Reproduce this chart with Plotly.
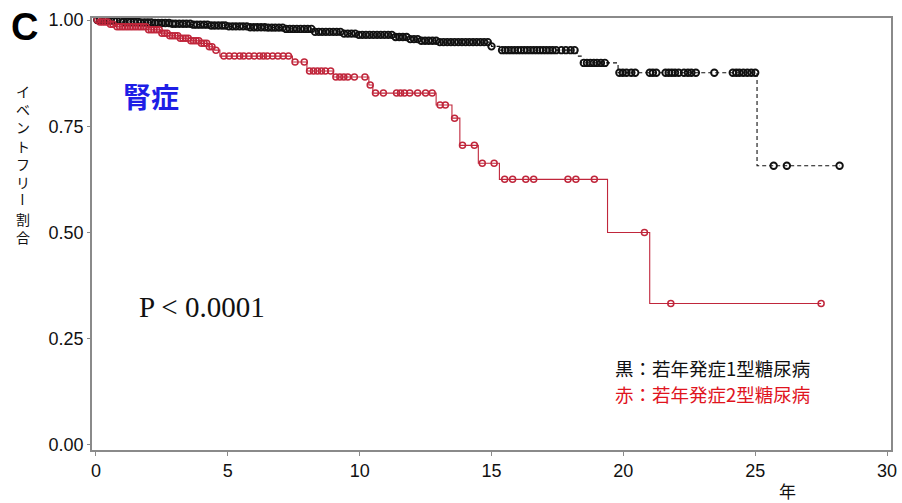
import numpy as np
import plotly.graph_objects as go

# Kaplan-Meier style event-free curves (years vs. event-free proportion)
# Early-onset type 1 diabetes: event times and survival after each step
t1_time = [0, 0.5, 1.0, 1.6, 2.2, 2.9, 3.6, 4.3, 5.0, 5.8, 6.5, 7.2, 8.3, 9.4, 9.9,
           11.3, 11.9, 12.3, 12.95, 15.0, 15.3, 18.25, 18.4, 19.8, 25.07]
t1_surv = [1.0, 0.998, 0.996, 0.994, 0.993, 0.991, 0.989, 0.987, 0.985, 0.983, 0.982,
           0.979, 0.972, 0.968, 0.965, 0.96, 0.955, 0.951, 0.948, 0.938, 0.929, 0.915,
           0.899, 0.876, 0.657]
t1_censor = [0.05, 0.15, 0.3, 0.42, 0.55, 0.68, 0.8, 0.93, 1.05, 1.2, 1.32, 1.45, 1.58,
             1.7, 1.84, 1.97, 2.1, 2.24, 2.36, 2.5, 2.63, 2.77, 2.9, 3.02, 3.16, 3.3,
             3.43, 3.57, 3.7, 3.83, 3.96, 4.1, 4.23, 4.37, 4.5, 4.64, 4.78, 4.9, 5.04,
             5.18, 5.31, 5.45, 5.58, 5.72, 5.85, 5.99, 6.12, 6.26, 6.4, 6.53, 6.67, 6.8,
             6.94, 7.08, 7.21, 7.35, 7.48, 7.62, 7.76, 7.9, 8.03, 8.17, 8.31, 8.45, 8.58,
             8.72, 8.86, 9.0, 9.13, 9.27, 9.41, 9.55, 9.69, 9.83, 9.97, 10.1, 10.24,
             10.38, 10.52, 10.66, 10.8, 10.94, 11.08, 11.22, 11.36, 11.5, 11.64, 11.78,
             11.92, 12.06, 12.2, 12.34, 12.48, 12.62, 12.76, 12.9, 13.04, 13.18, 13.32,
             13.46, 13.6, 13.74, 13.88, 14.02, 14.16, 14.3, 14.44, 14.58, 14.72, 14.86,
             15.0, 15.4, 15.52, 15.64, 15.76, 15.88, 16.0, 16.12, 16.24, 16.36, 16.48,
             16.6, 16.72, 16.84, 16.96, 17.08, 17.2, 17.32, 17.45, 17.65, 17.82, 18.0,
             18.15, 18.5, 18.62, 18.75, 18.88, 19.0, 19.15, 19.3, 19.85, 19.98, 20.12,
             20.3, 20.45, 21.0, 21.12, 21.25, 21.6, 21.72, 21.84, 21.96, 22.1, 22.3,
             22.45, 22.58, 22.75, 23.45, 24.15, 24.28, 24.4, 24.55, 24.7, 24.85, 25.0,
             25.7, 26.2, 28.2]

# Early-onset type 2 diabetes
t2_time = [0, 0.1, 0.55, 0.8, 2.0, 2.45, 2.8, 3.2, 3.6, 3.95, 4.3, 4.5, 4.7, 7.45, 8.0,
           9.0, 10.35, 10.5, 12.9, 13.5, 13.8, 14.5, 15.3, 19.4, 21.0]
t2_surv = [1.0, 0.995, 0.99, 0.984, 0.977, 0.969, 0.963, 0.957, 0.951, 0.945, 0.937,
           0.929, 0.915, 0.901, 0.88, 0.866, 0.847, 0.828, 0.8, 0.769, 0.705, 0.663,
           0.625, 0.5, 0.333]
t2_censor = [0.05, 0.15, 0.25, 0.35, 0.45, 0.55, 0.65, 0.8, 0.9, 1.0, 1.1, 1.2, 1.3, 1.4,
             1.5, 1.6, 1.7, 1.8, 1.9, 2.0, 2.1, 2.2, 2.3, 2.4, 2.5, 2.6, 2.7, 2.8, 2.9,
             3.0, 3.1, 3.2, 3.3, 3.4, 3.5, 3.6, 3.7, 3.8, 3.9, 4.0, 4.1, 4.2, 4.3, 4.4,
             4.55, 4.85, 5.05, 5.25, 5.45, 5.6, 5.8, 6.0, 6.2, 6.35, 6.5, 6.7, 6.9, 7.1,
             7.3, 7.55, 7.9, 8.1, 8.25, 8.4, 8.55, 8.7, 8.9, 9.1, 9.25, 9.4, 9.55, 9.8,
             10.2, 10.4, 10.6, 10.9, 11.4, 11.55, 11.7, 11.9, 12.2, 12.5, 12.75, 13.05,
             13.25, 13.6, 13.9, 14.35, 14.65, 15.1, 15.5, 15.8, 16.3, 16.6, 17.9, 18.2,
             18.9, 20.8, 21.8, 27.5]

x_ticks = [0, 5, 10, 15, 20, 25, 30]
y_ticks = [0.0, 0.25, 0.5, 0.75, 1.0]
y_ticklabels = ["0.00", "0.25", "0.50", "0.75", "1.00"]

BLACK = "#111111"
RED = "#c0263b"


def step_xy(times, surv, censor):
    """Extend the step function out to the last follow-up time."""
    end = max(censor)
    return list(times) + [end], list(surv) + [surv[-1]]


def surv_at(times, surv, pts):
    idx = np.searchsorted(np.asarray(times), np.asarray(pts), side="right") - 1
    return np.asarray(surv)[idx]


fig = go.Figure()

for times, surv, cens, color, dash, msize, mlw in [
    (t1_time, t1_surv, t1_censor, BLACK, "4px,3px", 6.5, 1.9),
    (t2_time, t2_surv, t2_censor, RED, "solid", 6, 1.5),
]:
    sx, sy = step_xy(times, surv, cens)
    fig.add_trace(go.Scatter(
        x=sx, y=sy, mode="lines", line=dict(color=color, width=1.1, dash=dash, shape="hv"),
        hoverinfo="skip", showlegend=False,
    ))
    fig.add_trace(go.Scatter(
        x=cens, y=surv_at(times, surv, cens), mode="markers",
        marker=dict(symbol="circle-open", size=msize, color=color, line=dict(width=mlw, color=color)),
        showlegend=False,
    ))

axis_color = "#8a8a8a"
tick_font = dict(family="Liberation Sans, Arial, sans-serif", size=18, color="#111111")

fig.update_layout(
    width=902, height=503,
    margin=dict(l=92, r=5, t=18, b=53),
    paper_bgcolor="white", plot_bgcolor="white",
    xaxis=dict(
        range=[-0.15, 30.15], tickvals=x_ticks, ticks="outside", ticklen=4, tickwidth=1.2,
        tickcolor=axis_color, showline=True, linecolor=axis_color, linewidth=1.5,
        mirror=True, showgrid=False, zeroline=False, tickfont=tick_font,
    ),
    yaxis=dict(
        range=[-0.0118, 1.0047], tickvals=y_ticks, ticktext=y_ticklabels, ticks="outside",
        ticklen=3, tickwidth=1.2, tickcolor=axis_color, showline=True, linecolor=axis_color,
        linewidth=1.5, mirror=True, showgrid=False, zeroline=False, tickfont=tick_font,
    ),
)

jp = "Noto Sans CJK JP, sans-serif"
annotations = [
    dict(text="<b>C</b>", x=24, y=27, font=dict(family="Liberation Sans, Arial", size=38, color="#000")),
    dict(text="<b>腎症</b>", x=151, y=96, font=dict(family=jp, size=28, color="#1e1ee6")),
    dict(text="P < 0.0001", x=203, y=307, font=dict(family="Liberation Serif, Times New Roman, serif", size=29, color="#111")),
    dict(text="黒：若年発症1型糖尿病", x=617, y=368, xanchor="left", font=dict(family=jp, size=18.5, color="#111")),
    dict(text="赤：若年発症2型糖尿病", x=617, y=394, xanchor="left", font=dict(family=jp, size=18.5, color="#e0141e")),
    dict(text="年", x=793, y=490, font=dict(family=jp, size=17, color="#111")),
    # vertical y-axis title; the long vowel mark is turned upright
    dict(text="イ<br>ベ<br>ン<br>ト<br>フ<br>リ", x=22, y=136, font=dict(family=jp, size=14, color="#111")),
    dict(text="ー", x=22, y=199, textangle=90, font=dict(family=jp, size=14, color="#111")),
    dict(text="割<br>合", x=22, y=228, font=dict(family=jp, size=14, color="#111")),
]

L, R, T, B = 92, 897, 18, 450
for a in annotations:
    px, py = a.pop("x"), a.pop("y")
    a.setdefault("xanchor", "center")
    fig.add_annotation(
        x=(px - L) / (R - L), y=(B - py) / (B - T), xref="paper", yref="paper",
        yanchor="middle", showarrow=False, **a,
    )

fig.write_html("out.html")
